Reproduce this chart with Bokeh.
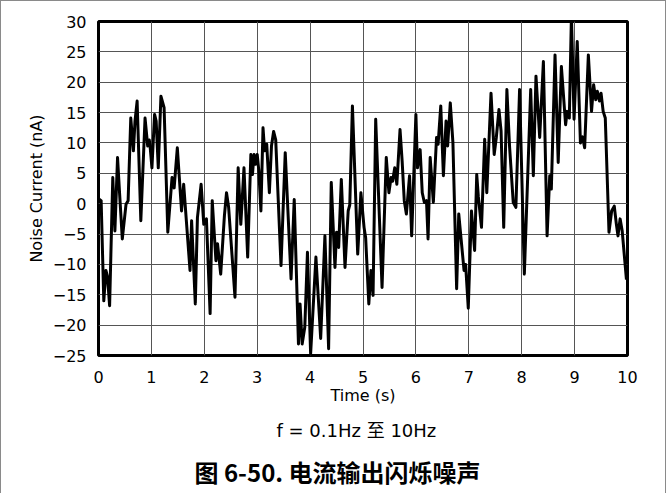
from bokeh.plotting import figure
from bokeh.models import FixedTicker, Title, ColumnDataSource
from bokeh.embed import file_html
from bokeh.resources import INLINE

time_s = [0.00, 0.05, 0.10, 0.14, 0.17, 0.21, 0.27, 0.31, 0.36, 0.40, 0.45, 0.52, 0.56, 0.61, 0.66, 0.69, 0.73,
          0.80, 0.88, 0.93, 0.96, 0.98, 1.01, 1.06, 1.09, 1.13, 1.18, 1.24, 1.31, 1.39, 1.43, 1.49, 1.57, 1.61,
          1.73, 1.76, 1.83, 1.87, 1.94, 1.99, 2.04, 2.11, 2.15, 2.22, 2.25, 2.31, 2.38, 2.42, 2.46, 2.58, 2.64,
          2.69, 2.75, 2.82, 2.88, 2.91, 2.94, 2.97, 3.00, 3.03, 3.07, 3.11, 3.14, 3.18, 3.23, 3.27, 3.31, 3.35,
          3.45, 3.53, 3.64, 3.70, 3.78, 3.81, 3.85, 3.90, 3.95, 4.01, 4.11, 4.20, 4.28, 4.35, 4.40, 4.47, 4.50,
          4.54, 4.59, 4.66, 4.72, 4.75, 4.80, 4.90, 4.96, 5.02, 5.05, 5.11, 5.15, 5.19, 5.24, 5.36, 5.44, 5.49,
          5.53, 5.56, 5.60, 5.64, 5.70, 5.74, 5.78, 5.82, 5.88, 5.92, 6.00, 6.03, 6.08, 6.12, 6.16, 6.20, 6.23,
          6.27, 6.33, 6.39, 6.42, 6.47, 6.52, 6.57, 6.60, 6.65, 6.70, 6.77, 6.81, 6.91, 6.94, 6.99, 7.05, 7.11,
          7.15, 7.18, 7.24, 7.30, 7.34, 7.42, 7.48, 7.52, 7.57, 7.61, 7.66, 7.72, 7.77, 7.84, 7.89, 7.96, 8.05,
          8.17, 8.22, 8.27, 8.34, 8.41, 8.48, 8.53, 8.56, 8.63, 8.69, 8.75, 8.83, 8.86, 8.90, 8.94, 8.99, 9.05,
          9.11, 9.15, 9.19, 9.26, 9.32, 9.36, 9.40, 9.43, 9.47, 9.50, 9.54, 9.58, 9.65, 9.70, 9.75, 9.79, 9.82,
          9.86, 9.90, 9.94, 9.98]
noise_na = [0.8, 0.5, -16.0, -11.0, -12.0, -16.8, 4.3, -4.5, 7.6, 1.5, -5.8, -0.1, 0.5, 14.1, 8.7, 13.6, 16.9,
            -2.8, 14.1, 9.5, 10.5, 9.0, 5.9, 14.7, 13.6, 5.9, 17.7, 15.8, -4.7, 4.3, 2.6, 9.2, -1.2, 3.2,
            -11.0, -2.8, -16.5, -2.3, 3.2, -3.4, -2.5, -18.1, 0.5, -9.4, -6.6, -11.6, -2.0, 1.8, -0.6, -15.4, 5.9,
            -3.4, 5.9, -8.8, 8.1, 4.8, 8.1, 6.5, 8.1, 5.5, -1.2, 12.5, 8.7, 9.8, 1.8, 9.5, 11.9, 10.5,
            -10.2, 8.4, -12.4, 0.7, -23.1, -16.5, -23.1, -20.3, -8.0, -24.7, -8.8, -22.2, -5.3, -23.9, 3.5, -10.5, -4.7,
            -7.2, 4.0, -10.5, -1.2, -0.2, 16.1, -8.3, 1.8, -3.9, -5.6, -16.5, -11.0, -15.1, 13.9, -13.8, 7.6, 1.8,
            4.3, 3.7, 5.9, 3.2, 12.2, 7.0, 0.5, -1.7, 4.6, -5.3, 14.7, 5.9, 8.9, 1.8, 0.2, 0.5, -5.8,
            7.6, 0.2, 10.9, 9.8, 16.1, 4.6, 13.6, 9.5, 16.6, 10.0, -14.0, -1.7, -11.0, -10.0, -17.2, -1.2, -7.7,
            4.8, 1.2, -3.9, 10.6, 1.8, 18.2, 8.1, 10.9, 15.5, 12.0, -3.9, 18.8, 9.5, 0.2, -0.6, 18.8, -11.6,
            18.8, 4.6, 21.0, 10.9, 23.4, -5.3, 4.6, 2.4, 24.5, 6.8, 22.6, 13.0, 15.2, 14.1, 31.0, 13.9, 26.7,
            10.0, 11.0, 9.2, 24.5, 15.2, 19.6, 17.1, 18.5, 16.9, 18.2, 15.2, 14.1, -4.7, -1.2, -0.4, -3.4, -5.3,
            -2.5, -4.5, -8.5, -12.5]

x_ticks = [0, 1, 2, 3, 4, 5, 6, 7, 8, 9, 10]
y_ticks = [-25, -20, -15, -10, -5, 0, 5, 10, 15, 20, 25, 30]

subtitle_text = "f = 0.1Hz 至 10Hz"
caption_text = "图 6-50. 电流输出闪烁噪声"

FONT = "'DejaVu Sans', 'Noto Sans CJK SC', sans-serif"
CJK = "'Noto Sans CJK SC', 'DejaVu Sans', sans-serif"

p = figure(width=666, height=493, output_backend="svg", toolbar_location=None,
           x_range=(0, 10), y_range=(-25, 30),
           min_border_left=97, min_border_right=40, min_border_top=20, min_border_bottom=139)
p.styles = {"border-left": "1px solid #8a8a8a", "border-top": "1px solid #8a8a8a",
            "border-right": "1px solid #8a8a8a", "box-sizing": "border-box"}

src = ColumnDataSource(dict(t=time_s, v=noise_na))
p.line("t", "v", source=src, line_color="black", line_width=3, line_join="round")

p.outline_line_color = "black"
p.outline_line_width = 3

for ax in (p.xaxis[0], p.yaxis[0]):
    ax.axis_line_color = None
    ax.major_tick_line_color = None
    ax.minor_tick_line_color = None
    ax.major_label_text_font = FONT
    ax.major_label_text_font_size = "16px"
    ax.major_label_text_color = "black"
    ax.axis_label_text_font = FONT
    ax.axis_label_text_font_size = "16px"
    ax.axis_label_text_font_style = "normal"
    ax.axis_label_text_color = "black"

p.xaxis.ticker = FixedTicker(ticks=x_ticks)
p.yaxis.ticker = FixedTicker(ticks=y_ticks)
p.xaxis.axis_label = "Time (s)"
p.yaxis.axis_label = "Noise Current (nA)"
p.xaxis.major_label_standoff = 9
p.xaxis.axis_label_standoff = 0
p.yaxis.major_label_standoff = 6
p.yaxis.axis_label_standoff = 4

p.xgrid.ticker = FixedTicker(ticks=x_ticks)
p.ygrid.ticker = FixedTicker(ticks=y_ticks)
p.grid.grid_line_color = "#555555"
p.grid.grid_line_width = 1
p.grid.grid_line_alpha = 1.0

sub = Title(text=subtitle_text, align="left", offset=178, text_font=FONT,
            text_font_size="18px", text_font_style="normal", text_color="black", standoff=21)
p.add_layout(sub, "below")
cap = Title(text=caption_text, align="left", offset=96, text_font=CJK,
            text_font_size="24px", text_font_style="bold", text_color="black", standoff=0)
p.add_layout(cap, "below")

open("out.html", "w").write(file_html(p, INLINE))
